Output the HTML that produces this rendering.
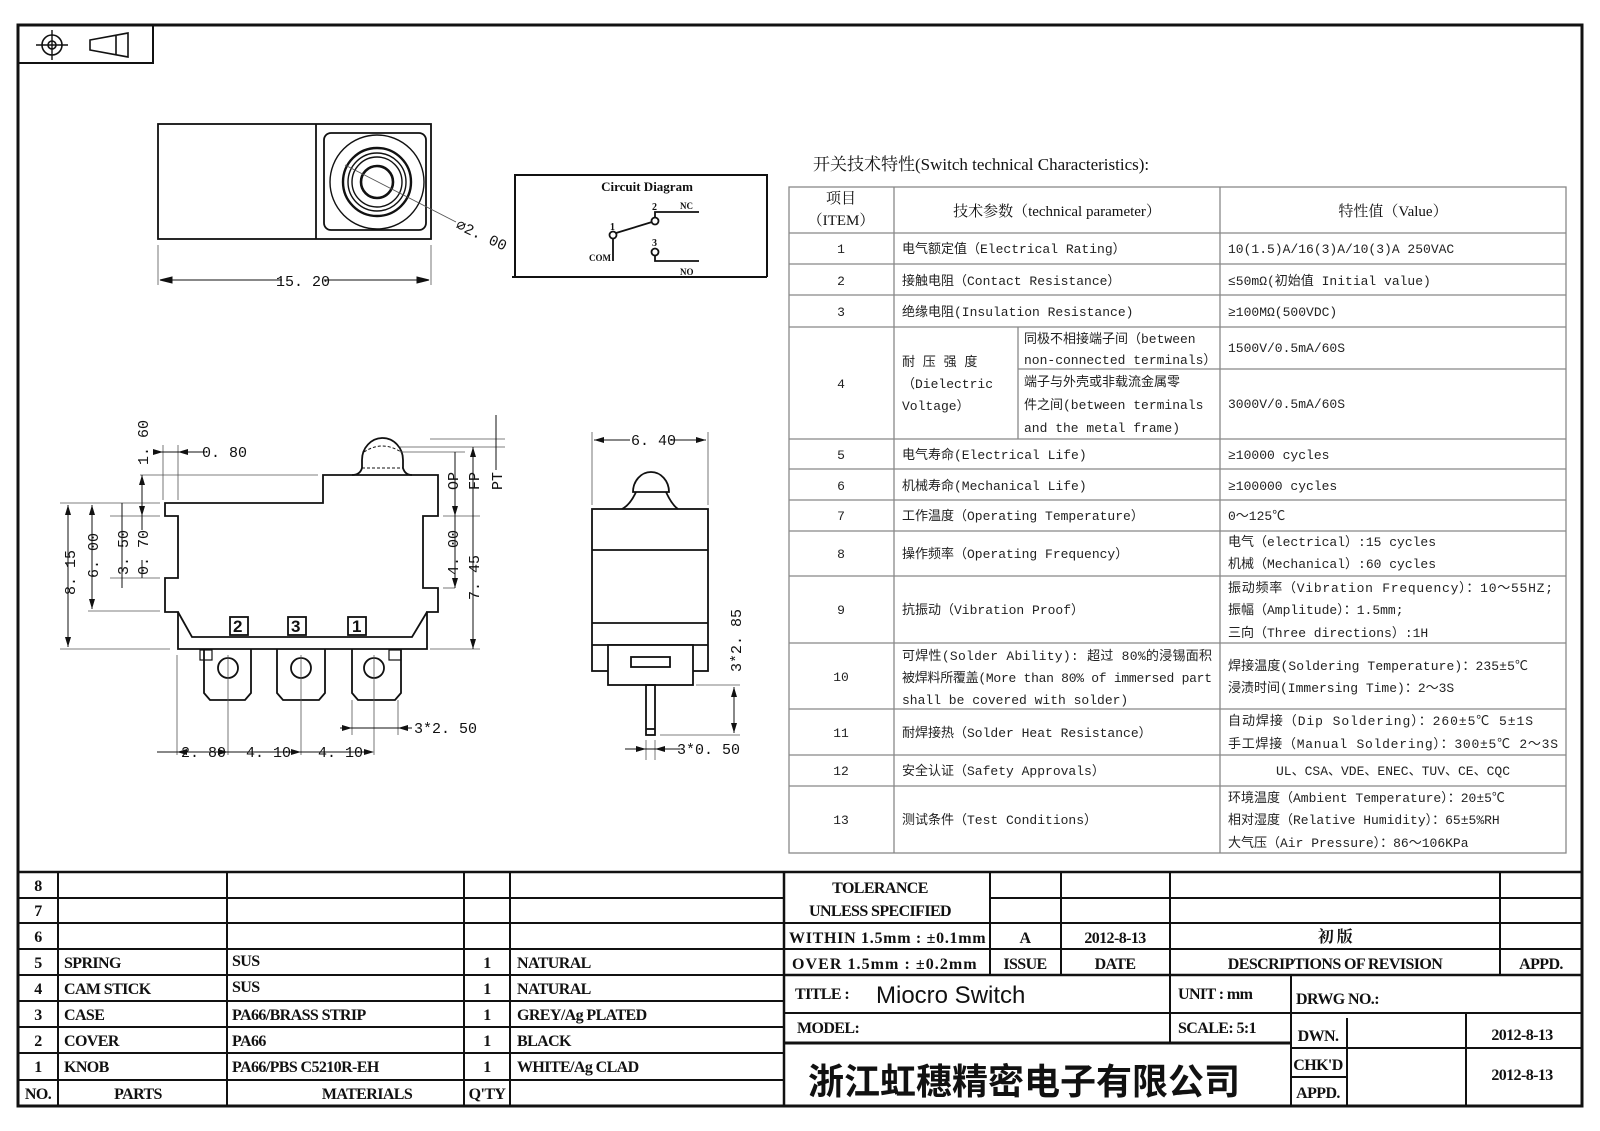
<!DOCTYPE html>
<html><head><meta charset="utf-8"><style>
html,body{margin:0;padding:0;background:#fff;}
svg{display:block}
.t{font-family:"Liberation Mono","Noto Sans CJK SC",monospace;font-size:13px;fill:#222}
.h{font-family:"Liberation Serif","Noto Serif CJK SC",serif;font-size:15px;fill:#111}
.b{font-family:"Liberation Serif","Noto Serif CJK SC",serif;font-weight:bold;font-size:16px;fill:#111;letter-spacing:-0.6px}
.d{font-family:"Liberation Mono",monospace;font-size:15px;fill:#111}
</style></head><body>
<svg width="1600" height="1131" viewBox="0 0 1600 1131" xmlns="http://www.w3.org/2000/svg">
<rect width="1600" height="1131" fill="#fff"/>
<g fill="none" stroke="#111">
<!-- border -->
<rect x="18" y="25" width="1564" height="1081" stroke-width="3"/>
<rect x="18" y="25" width="135" height="38" stroke-width="2"/>
<circle cx="52" cy="45" r="10" stroke-width="1.6"/><circle cx="52" cy="45" r="4" stroke-width="1.6"/>
<line x1="36" y1="45" x2="68" y2="45" stroke-width="1.4"/><line x1="52" y1="30" x2="52" y2="60" stroke-width="1.4"/>
<path d="M90 40 L128 33 L128 57 L90 50 Z M116 35 L116 55" stroke-width="1.6"/>

<!-- top view -->
<g stroke-width="1.8">
<rect x="158" y="124" width="273" height="115"/>
<line x1="316" y1="124" x2="316" y2="239"/>
<rect x="324" y="133" width="102" height="97" rx="7"/>
<circle cx="377" cy="182" r="47" stroke-width="1.4"/>
<circle cx="377" cy="182" r="34" stroke-width="2.4"/>
<circle cx="377" cy="182" r="29" stroke-width="1.4"/>
<circle cx="377" cy="182" r="25" stroke-width="1.4"/>
<circle cx="377" cy="182" r="16" stroke-width="2.6"/>
</g>
<line x1="345" y1="165" x2="456" y2="222" stroke-width="0.9" stroke="#555"/>
<line x1="158" y1="245" x2="158" y2="285" stroke-width="0.8" stroke="#555"/>
<line x1="431" y1="245" x2="431" y2="285" stroke-width="0.8" stroke="#555"/>
<line x1="160" y1="280" x2="282" y2="280" stroke-width="0.9"/><line x1="324" y1="280" x2="429" y2="280" stroke-width="0.9"/>
<path d="M160 280 l12 -3 v6 z M429 280 l-12 -3 v6 z" fill="#111"/>

<!-- circuit diagram -->
<path d="M515 277 V175 H767 V277 M512 277 H767" stroke-width="2"/>
<circle cx="613" cy="235" r="3.5" stroke-width="1.8"/>
<line x1="613" y1="239" x2="613" y2="261" stroke-width="1.8"/>
<line x1="616" y1="233" x2="652" y2="222" stroke-width="1.8"/>
<circle cx="655" cy="221" r="3.5" stroke-width="1.8"/>
<path d="M655 217 V212 H699" stroke-width="1.8"/>
<circle cx="655" cy="252" r="3.5" stroke-width="1.8"/>
<path d="M655 256 V261 H699" stroke-width="1.8"/>

<!-- side view -->
<g stroke-width="1.8">
<path d="M323 475 H438 V516 H423 V588 H438 V612 H427 V649 H178 V612 H165 V578 H178 V516 H165 V503 H323 Z"/>
<path d="M178 612 L192 637 H412 L427 612"/>
<path d="M362 460 A20.5 22 0 0 1 403 460 L403 468 Q405 475 412 475 M362 460 L362 468 Q360 475 352 475"/>
<path d="M364 452 Q382 440 401 452" stroke-dasharray="3 2" stroke-width="1"/>
<line x1="362" y1="468" x2="403" y2="468" stroke-dasharray="3 2" stroke-width="1"/>
<path d="M204 649 V693 L210 700 H245 L251 693 V649"/>
<path d="M277 649 V693 L283 700 H319 L325 693 V649"/>
<path d="M352 649 V693 L358 700 H395 L401 693 V649"/>
<rect x="200" y="650" width="12" height="10" stroke-width="1.2"/><rect x="389" y="650" width="12" height="10" stroke-width="1.2"/>
<circle cx="228" cy="668" r="10"/><circle cx="301" cy="668" r="10"/><circle cx="374" cy="668" r="10"/>
<rect x="230" y="617" width="18" height="18"/><rect x="288" y="617" width="18" height="18"/><rect x="348" y="617" width="18" height="18"/>
</g>
<g stroke-width="0.8" stroke="#555">
<line x1="228" y1="655" x2="228" y2="755"/><line x1="301" y1="655" x2="301" y2="755"/><line x1="374" y1="655" x2="374" y2="755"/>
<line x1="177" y1="655" x2="177" y2="755"/>
<line x1="352" y1="700" x2="352" y2="735"/><line x1="398" y1="700" x2="398" y2="735"/>
<line x1="60" y1="649" x2="170" y2="649"/><line x1="60" y1="503" x2="160" y2="503"/>
<line x1="88" y1="611" x2="160" y2="611"/><line x1="110" y1="578" x2="160" y2="578"/><line x1="110" y1="516" x2="160" y2="516"/>
<line x1="140" y1="475" x2="318" y2="475"/>
<line x1="163" y1="445" x2="163" y2="500"/><line x1="178" y1="445" x2="178" y2="500"/>
<line x1="430" y1="439" x2="505" y2="439"/><line x1="400" y1="447" x2="505" y2="447"/><line x1="400" y1="452" x2="465" y2="452"/>
<line x1="443" y1="516" x2="480" y2="516"/><line x1="443" y1="588" x2="455" y2="588"/><line x1="430" y1="649" x2="480" y2="649"/>
</g>
<g stroke-width="1">
<line x1="68" y1="505" x2="68" y2="647"/><line x1="92" y1="505" x2="92" y2="609"/>
<line x1="122" y1="503" x2="122" y2="588"/><line x1="142" y1="475" x2="142" y2="516"/>
<line x1="142" y1="516" x2="142" y2="530"/><line x1="142" y1="560" x2="142" y2="578"/>
<line x1="455" y1="452" x2="455" y2="516"/><line x1="455" y1="516" x2="455" y2="588"/>
<line x1="473" y1="447" x2="473" y2="649"/><line x1="496" y1="415" x2="496" y2="470"/>
<line x1="155" y1="452" x2="205" y2="452"/>
<line x1="157" y1="752" x2="370" y2="752"/>
<line x1="340" y1="728" x2="412" y2="728"/>
</g>
<g fill="#111" stroke="none">
<path d="M68 505 l-3 10 h6z M68 647 l-3 -10 h6z M92 505 l-3 10 h6z M92 609 l-3 -10 h6z M142 475 l-3 10 h6z M142 516 l-3 -10 h6z M455 516 l-3 -10 h6z M455 588 l-3 -10 h6z M473 649 l-3 -10 h6z M473 447 l-3 10 h6z"/>
<path d="M163 452 l-10 -3 v6z M178 452 l10 -3 v6z M177 752 l10 -3 v6z M228 752 l-10 -3 v6z M301 752 l-10 -3 v6z M374 752 l-10 -3 v6z M352 728 l-10 -3 v6z M398 728 l10 -3 v6z"/>
</g>

<!-- front view -->
<g stroke-width="1.8">
<rect x="592" y="509" width="116" height="162"/>
<line x1="592" y1="550" x2="708" y2="550"/><line x1="592" y1="623" x2="708" y2="623"/><line x1="592" y1="645" x2="708" y2="645"/>
<rect x="608" y="645" width="85" height="40" fill="#fff"/>
<rect x="631" y="657" width="39" height="10"/>
<rect x="646" y="685" width="9" height="50"/>
<line x1="646" y1="729" x2="655" y2="729"/>
<path d="M633 492 A18 20 0 0 1 669 492 Z"/>
<path d="M636 492 Q630 505 622 509 M666 492 Q672 505 678 509"/>
</g>
<g stroke-width="0.8" stroke="#555">
<line x1="592" y1="432" x2="592" y2="505"/><line x1="708" y1="432" x2="708" y2="505"/>
<line x1="696" y1="685" x2="740" y2="685"/><line x1="660" y1="735" x2="740" y2="735"/>
<line x1="646" y1="740" x2="646" y2="760"/><line x1="655" y1="740" x2="655" y2="760"/>
</g>
<line x1="594" y1="440" x2="630" y2="440" stroke-width="1"/><line x1="670" y1="440" x2="706" y2="440" stroke-width="1"/>
<line x1="734" y1="687" x2="734" y2="733" stroke-width="1"/>
<line x1="625" y1="749" x2="680" y2="749" stroke-width="1"/>
<path d="M594 440 l10 -3 v6z M706 440 l-10 -3 v6z M734 687 l-3 10 h6z M734 733 l-3 -10 h6z M646 749 l-10 -3 v6z M655 749 l10 -3 v6z" fill="#111" stroke="none"/>

<!-- spec table -->
<g stroke="#888" stroke-width="1.3">
<rect x="789" y="187" width="777" height="666"/>
<line x1="894" y1="187" x2="894" y2="853"/><line x1="1220" y1="187" x2="1220" y2="853"/>
<line x1="1018" y1="327" x2="1018" y2="439"/>
<line x1="789" y1="233" x2="1566" y2="233"/><line x1="789" y1="264" x2="1566" y2="264"/>
<line x1="789" y1="295" x2="1566" y2="295"/><line x1="789" y1="327" x2="1566" y2="327"/>
<line x1="1018" y1="369" x2="1566" y2="369"/>
<line x1="789" y1="439" x2="1566" y2="439"/><line x1="789" y1="469" x2="1566" y2="469"/>
<line x1="789" y1="500" x2="1566" y2="500"/><line x1="789" y1="531" x2="1566" y2="531"/>
<line x1="789" y1="576" x2="1566" y2="576"/><line x1="789" y1="643" x2="1566" y2="643"/>
<line x1="789" y1="709" x2="1566" y2="709"/><line x1="789" y1="755" x2="1566" y2="755"/>
<line x1="789" y1="786" x2="1566" y2="786"/>
</g>

<!-- bottom block -->
<g stroke-width="2">
<line x1="18" y1="872" x2="1582" y2="872" stroke-width="2.5"/>
<line x1="18" y1="898" x2="784" y2="898"/><line x1="18" y1="923" x2="784" y2="923"/>
<line x1="18" y1="949" x2="784" y2="949"/><line x1="18" y1="975" x2="784" y2="975"/>
<line x1="18" y1="1001" x2="784" y2="1001"/><line x1="18" y1="1027" x2="784" y2="1027"/>
<line x1="18" y1="1053" x2="784" y2="1053"/><line x1="18" y1="1080" x2="784" y2="1080"/>
<line x1="58" y1="872" x2="58" y2="1106"/><line x1="227" y1="872" x2="227" y2="1106"/>
<line x1="464" y1="872" x2="464" y2="1106"/><line x1="510" y1="872" x2="510" y2="1106"/>
<line x1="784" y1="872" x2="784" y2="1106" stroke-width="2.5"/>
<line x1="990" y1="898" x2="1582" y2="898"/><line x1="784" y1="923" x2="1582" y2="923"/>
<line x1="784" y1="949" x2="1582" y2="949"/><line x1="784" y1="975" x2="1582" y2="975" stroke-width="2.5"/>
<line x1="990" y1="872" x2="990" y2="975"/><line x1="1061" y1="872" x2="1061" y2="975"/>
<line x1="1170" y1="872" x2="1170" y2="975"/><line x1="1500" y1="872" x2="1500" y2="975"/>
<line x1="784" y1="1013" x2="1582" y2="1013"/><line x1="784" y1="1043" x2="1291" y2="1043" stroke-width="3"/>
<line x1="1170" y1="975" x2="1170" y2="1043"/><line x1="1291" y1="975" x2="1291" y2="1106"/>
<line x1="1347" y1="1018" x2="1347" y2="1106"/><line x1="1466" y1="1013" x2="1466" y2="1106"/>
<line x1="1291" y1="1048" x2="1582" y2="1048"/><line x1="1291" y1="1077" x2="1347" y2="1077"/>
</g>
</g>

<!-- drawing text -->
<g class="d">
<text x="303" y="286" text-anchor="middle">15. 20</text>
<text x="0" y="0" transform="translate(455,228) rotate(25)">⌀2. 00</text>
<text x="202" y="457">0. 80</text>
<text x="0" y="0" transform="translate(148,465) rotate(-90)">1. 60</text>
<text x="0" y="0" transform="translate(75,595) rotate(-90)">8. 15</text>
<text x="0" y="0" transform="translate(98,578) rotate(-90)">6. 00</text>
<text x="0" y="0" transform="translate(128,575) rotate(-90)">3. 50</text>
<text x="0" y="0" transform="translate(148,575) rotate(-90)">0. 70</text>
<text x="0" y="0" transform="translate(458,575) rotate(-90)">4. 00</text>
<text x="0" y="0" transform="translate(479,600) rotate(-90)">7. 45</text>
<text x="0" y="0" transform="translate(458,490) rotate(-90)">OP</text>
<text x="0" y="0" transform="translate(479,490) rotate(-90)">FP</text>
<text x="0" y="0" transform="translate(502,490) rotate(-90)">PT</text>
<text x="181" y="757">2. 80</text><text x="246" y="757">4. 10</text><text x="318" y="757">4. 10</text>
<text x="414" y="733">3*2. 50</text>
<text x="631" y="445">6. 40</text>
<text x="0" y="0" transform="translate(741,672) rotate(-90)">3*2. 85</text>
<text x="677" y="754">3*0. 50</text>
<text x="233" y="632" style="font-size:17px;font-weight:bold;font-family:'Liberation Sans',sans-serif">2</text>
<text x="291" y="632" style="font-size:17px;font-weight:bold;font-family:'Liberation Sans',sans-serif">3</text>
<text x="352" y="632" style="font-size:17px;font-weight:bold;font-family:'Liberation Sans',sans-serif">1</text>
</g>
<g font-family="Liberation Serif,serif" font-weight="bold" font-size="11" fill="#111">
<text x="647" y="191" text-anchor="middle" font-size="13">Circuit Diagram</text>
<text x="610" y="230" font-size="10">1</text><text x="652" y="210" font-size="10">2</text><text x="652" y="246" font-size="10">3</text>
<text x="680" y="209" font-size="9">NC</text><text x="589" y="261" font-size="9">COM</text><text x="680" y="275" font-size="9">NO</text>
</g>

<!-- spec text -->
<text x="813" y="170" class="h" style="font-size:17px">开关技术特性(Switch technical Characteristics):</text>
<g class="h" text-anchor="middle">
<text x="841" y="203">项目</text><text x="841" y="225">（ITEM）</text>
<text x="1057" y="216">技术参数（technical parameter）</text>
<text x="1393" y="216">特性值（Value）</text>
</g>
<g class="t" text-anchor="middle">
<text x="841" y="253">1</text><text x="841" y="285">2</text><text x="841" y="316">3</text><text x="841" y="388">4</text>
<text x="841" y="459">5</text><text x="841" y="490">6</text><text x="841" y="520">7</text><text x="841" y="558">8</text>
<text x="841" y="614">9</text><text x="841" y="681">10</text><text x="841" y="737">11</text><text x="841" y="775">12</text><text x="841" y="824">13</text>
</g>
<g class="t">
<text x="902" y="253">电气额定值（Electrical Rating）</text>
<text x="902" y="285">接触电阻（Contact  Resistance）</text>
<text x="902" y="316">绝缘电阻(Insulation Resistance)</text>
<text x="902" y="366">耐 压 强 度</text><text x="902" y="388">（Dielectric</text><text x="902" y="410">Voltage）</text>
<text x="1024" y="343">同极不相接端子间（between</text><text x="1024" y="364">non-connected terminals）</text>
<text x="1024" y="386">端子与外壳或非载流金属零</text><text x="1024" y="409">件之间(between terminals</text><text x="1024" y="432">and the metal frame)</text>
<text x="902" y="459">电气寿命(Electrical Life)</text>
<text x="902" y="490">机械寿命(Mechanical Life)</text>
<text x="902" y="520">工作温度（Operating Temperature）</text>
<text x="902" y="558">操作频率（Operating Frequency）</text>
<text x="902" y="614">抗振动（Vibration Proof）</text>
<text x="902" y="660" textLength="310">可焊性(Solder Ability): 超过 80%的浸锡面积</text>
<text x="902" y="682" textLength="310">被焊料所覆盖(More than 80% of immersed part</text>
<text x="902" y="704">shall be covered with solder)</text>
<text x="902" y="737">耐焊接热（Solder Heat Resistance）</text>
<text x="902" y="775">安全认证（Safety Approvals）</text>
<text x="902" y="824">测试条件（Test Conditions）</text>

<text x="1228" y="253">10(1.5)A/16(3)A/10(3)A  250VAC</text>
<text x="1228" y="285">≤50mΩ(初始值 Initial value)</text>
<text x="1228" y="316">≥100MΩ(500VDC)</text>
<text x="1228" y="352">1500V/0.5mA/60S</text>
<text x="1228" y="408">3000V/0.5mA/60S</text>
<text x="1228" y="459">≥10000 cycles</text>
<text x="1228" y="490">≥100000 cycles</text>
<text x="1228" y="520">0～125℃</text>
<text x="1228" y="546">电气（electrical）:15 cycles</text>
<text x="1228" y="568">机械（Mechanical）:60 cycles</text>
<text x="1228" y="592" textLength="325">振动频率（Vibration Frequency）：10～55HZ;</text>
<text x="1228" y="614">振幅（Amplitude）：1.5mm;</text>
<text x="1228" y="637">三向（Three directions）:1H</text>
<text x="1228" y="670" textLength="300">焊接温度(Soldering Temperature)：235±5℃</text>
<text x="1228" y="692">浸渍时间(Immersing Time)：2～3S</text>
<text x="1228" y="725" textLength="305">自动焊接（Dip Soldering）：260±5℃ 5±1S</text>
<text x="1228" y="748" textLength="330">手工焊接（Manual Soldering）：300±5℃ 2～3S</text>
<text x="1393" y="775" text-anchor="middle">UL、CSA、VDE、ENEC、TUV、CE、CQC</text>
<text x="1228" y="802">环境温度（Ambient Temperature）：20±5℃</text>
<text x="1228" y="824">相对湿度（Relative Humidity）：65±5%RH</text>
<text x="1228" y="847">大气压（Air Pressure）：86～106KPa</text>
</g>

<!-- bottom block text -->
<g class="b">
<g text-anchor="middle"><text x="38" y="891">8</text><text x="38" y="916">7</text><text x="38" y="942">6</text><text x="38" y="968">5</text><text x="38" y="994">4</text><text x="38" y="1020">3</text><text x="38" y="1046">2</text><text x="38" y="1072">1</text><text x="38" y="1099">NO.</text>
<text x="138" y="1099">PARTS</text><text x="367" y="1099">MATERIALS</text><text x="487" y="1099">Q'TY</text>
<text x="487" y="968">1</text><text x="487" y="994">1</text><text x="487" y="1020">1</text><text x="487" y="1046">1</text><text x="487" y="1072">1</text></g>
<text x="64" y="968">SPRING</text><text x="64" y="994">CAM  STICK</text><text x="64" y="1020">CASE</text><text x="64" y="1046">COVER</text><text x="64" y="1072">KNOB</text>
<text x="232" y="966">SUS</text><text x="232" y="992">SUS</text><text x="232" y="1020">PA66/BRASS  STRIP</text><text x="232" y="1046">PA66</text><text x="232" y="1072">PA66/PBS  C5210R-EH</text>
<text x="517" y="968">NATURAL</text><text x="517" y="994">NATURAL</text><text x="517" y="1020">GREY/Ag  PLATED</text><text x="517" y="1046">BLACK</text><text x="517" y="1072">WHITE/Ag  CLAD</text>
<g text-anchor="middle">
<text x="880" y="893">TOLERANCE</text><text x="880" y="916">UNLESS   SPECIFIED</text>
<text x="1025" y="943">A</text><text x="1115" y="943">2012-8-13</text><text x="1335" y="942">初  版</text>
<text x="1025" y="969">ISSUE</text><text x="1115" y="969">DATE</text><text x="1335" y="969">DESCRIPTIONS  OF  REVISION</text><text x="1541" y="969">APPD.</text>
<text x="1318" y="1041">DWN.</text><text x="1318" y="1070">CHK'D</text><text x="1318" y="1098">APPD.</text>
<text x="1522" y="1040">2012-8-13</text><text x="1522" y="1080">2012-8-13</text>
</g>
<text x="789" y="943" textLength="196">WITHIN  1.5mm : ±0.1mm</text>
<text x="792" y="969" textLength="184">OVER  1.5mm : ±0.2mm</text>
<text x="795" y="999">TITLE :</text>
<text x="1178" y="999">UNIT :   mm</text>
<text x="1296" y="1004">DRWG  NO.:</text>
<text x="797" y="1033">MODEL:</text>
<text x="1178" y="1033">SCALE:   5:1</text>
</g>
<text x="876" y="1003" style="font-family:'Liberation Sans',sans-serif;font-size:24px;fill:#111">Miocro Switch</text>
<text x="1024" y="1094" text-anchor="middle" style="font-family:'Liberation Sans','Noto Sans CJK SC',sans-serif;font-weight:bold;font-size:36px;fill:#111">浙江虹穗精密电子有限公司</text>
</svg>
</body></html>
